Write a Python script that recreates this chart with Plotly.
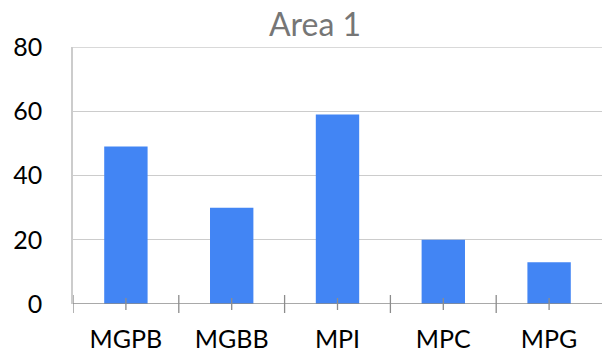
import plotly.graph_objects as go

categories = ["MGPB", "MGBB", "MPI", "MPC", "MPG"]
values = [49, 30, 59, 20, 13]
y_ticks = [0, 20, 40, 60, 80]
title_text = "Area 1"

W, H = 602, 353
ml, mt, mb, mr = 73, 47, 49, 0
plot_h = H - mt - mb

fig = go.Figure()
fig.add_trace(go.Bar(x=categories, y=values, marker=dict(color="#4285F4", line=dict(width=0)),
                     width=0.41))

shapes = []
axis_col = "#8c8c8c"
grid_col = "#cccccc"
def frac(px):
    return px / plot_h
n = len(categories)
for i in range(n):
    shapes.append(dict(type="line", xref="x", yref="paper", x0=i - 0.5, x1=i - 0.5,
                       y0=-frac(9), y1=frac(9), line=dict(color=axis_col, width=1.3)))
    shapes.append(dict(type="line", xref="x", yref="paper", x0=i, x1=i,
                       y0=-frac(6), y1=frac(6), line=dict(color=axis_col, width=1.3)))
shapes.append(dict(type="line", xref="paper", yref="y", x0=0, x1=1, y0=0, y1=0,
                   line=dict(color=axis_col, width=1.5)))
shapes.append(dict(type="line", xref="paper", yref="y", x0=0, x1=1, y0=y_ticks[-1], y1=y_ticks[-1],
                   line=dict(color=grid_col, width=1.4), layer="below"))

fig.update_layout(
    width=W, height=H,
    margin=dict(l=ml, r=mr, t=mt, b=mb),
    paper_bgcolor="white", plot_bgcolor="white",
    font=dict(family="Lato, Open Sans, sans-serif", color="#000000"),
    title=dict(text=title_text, x=315 / W, xref="container", xanchor="center",
               y=1 - 25 / H, yanchor="middle",
               font=dict(size=32, color="#767676")),
    showlegend=False,
    shapes=shapes,
    xaxis=dict(type="category", range=[-0.5, n - 0.5], showline=False, showgrid=False,
               ticks="", tickfont=dict(size=25), ticklabelstandoff=18, zeroline=False,
               automargin=False),
    yaxis=dict(range=[0, 80], tickvals=y_ticks, showgrid=True, gridcolor=grid_col, gridwidth=1.4,
               showline=True, linecolor=grid_col, linewidth=1.6, zeroline=False,
               ticks="", tickfont=dict(size=25), ticklabelstandoff=24, automargin=False),
    bargap=0.59,
)

fig.write_html("out.html", config={"displayModeBar": False},
               post_script="document.body.style.margin='0';document.body.style.overflow='hidden';")
